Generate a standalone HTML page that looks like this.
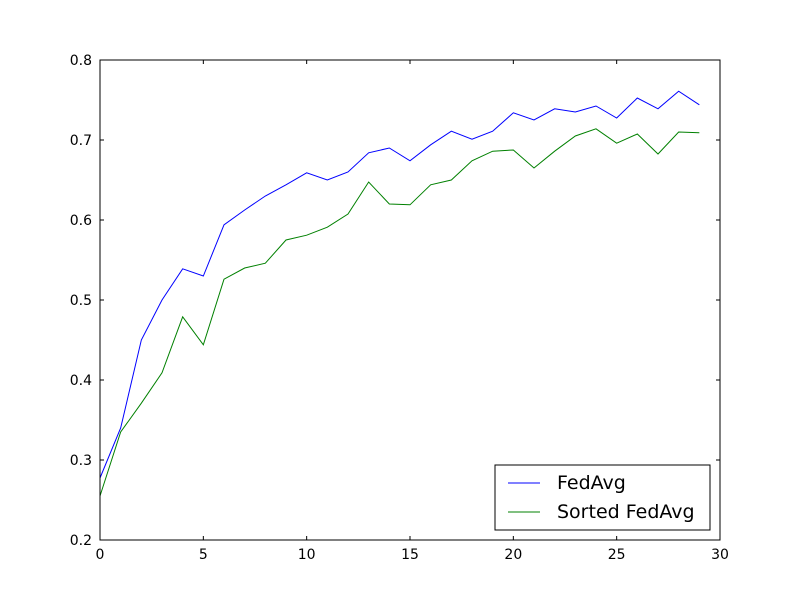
<!DOCTYPE html>
<html><head><meta charset="utf-8"><style>body{margin:0;background:#fff}svg{display:block;font-family:"DejaVu Sans","Liberation Sans",sans-serif}</style></head>
<body>
<svg id="chart" width="800" height="600">
<rect width="800" height="600" fill="#fff"/>
<g id="plot"></g>
</svg>
<script>
const xTicks=[0,5,10,15,20,25,30];
const yTicks=[0.2,0.3,0.4,0.5,0.6,0.7,0.8];
const yTickLabels=["0.2","0.3","0.4","0.5","0.6","0.7","0.8"];
const fedAvg=[0.2775,0.34,0.45,0.50,0.539,0.53,0.594,0.6125,0.63,0.644,0.659,0.65,0.66,0.684,0.69,0.674,0.694,0.711,0.701,0.711,0.734,0.725,0.739,0.735,0.7425,0.7275,0.7525,0.739,0.761,0.744];
const sortedFedAvg=[0.255,0.335,0.371,0.409,0.479,0.444,0.526,0.54,0.546,0.575,0.581,0.591,0.6075,0.6475,0.62,0.619,0.644,0.65,0.674,0.686,0.6875,0.665,0.686,0.705,0.714,0.696,0.7075,0.6825,0.71,0.709];
const seriesNames=["FedAvg","Sorted FedAvg"];
const colors=["#0000ff","#008000"];

const L=100,R=720,T=60,B=540;
const X=v=>L+(v-0)/(30-0)*(R-L);
const Y=v=>B-(v-0.2)/(0.8-0.2)*(B-T);
const NS="http://www.w3.org/2000/svg";
const g=document.getElementById('plot');
function mk(t,a,parent){const e=document.createElementNS(NS,t);for(const k in a)e.setAttribute(k,a[k]);(parent||g).appendChild(e);return e;}

[fedAvg,sortedFedAvg].forEach((s,i)=>{
  const p=mk('polyline',{points:s.map((v,j)=>X(j)+','+Y(v)).join(' '),fill:'none',stroke:colors[i],'stroke-width':1});
  
  
});

const frame=mk('rect',{x:L,y:T,width:R-L,height:B-T,fill:'none',stroke:'#000','stroke-width':1});



xTicks.forEach(v=>{
  const x=X(v);
  mk('line',{x1:x,y1:B,x2:x,y2:B-4,stroke:'#000'});
  mk('line',{x1:x,y1:T,x2:x,y2:T+4,stroke:'#000'});
  const t=mk('text',{x:x,y:B+19,'text-anchor':'middle','font-size':14});
  t.textContent=v;
  
  
});
yTicks.forEach((v,i)=>{
  const y=Y(v);
  mk('line',{x1:L,y1:y,x2:L+4,y2:y,stroke:'#000'});
  mk('line',{x1:R,y1:y,x2:R-4,y2:y,stroke:'#000'});
  const t=mk('text',{x:L-8,y:y+5,'text-anchor':'end','font-size':14});
  t.textContent=yTickLabels[i];
  
  
});

const leg=mk('g',{});


mk('rect',{x:495,y:465,width:215,height:65,fill:'#fff',stroke:'#000'},leg);
seriesNames.forEach((n,i)=>{
  const y=483+i*29;
  mk('line',{x1:508,y1:y,x2:540,y2:y,stroke:colors[i]},leg);
  const t=mk('text',{x:557,y:y+6,'font-size':19},leg);
  t.textContent=n;
  
  
});
</script>
</body></html>
